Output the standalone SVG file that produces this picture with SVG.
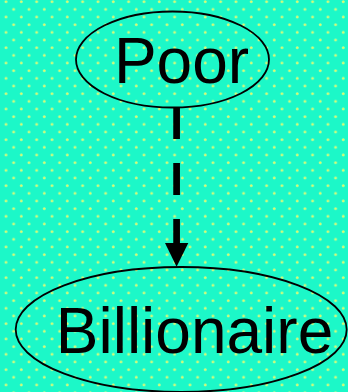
<svg xmlns="http://www.w3.org/2000/svg" width="348" height="392" viewBox="0 0 348 392">
<defs>
<pattern id="dots" x="0" y="0" width="15.33" height="15.33" patternUnits="userSpaceOnUse">
<rect width="15.33" height="15.33" fill="#1cf8c8"/>
<circle cx="6" cy="1.7" r="1.5" fill="#b8fb9c"/>
<circle cx="6" cy="1.7" r="0.7" fill="#f6ff40"/>
<circle cx="13.67" cy="9.35" r="1.5" fill="#b8fb9c"/>
<circle cx="13.67" cy="9.35" r="0.7" fill="#f6ff40"/>
</pattern>
<style>
.node ellipse { fill: none; stroke: #000; stroke-width: 1.8; }
.node text { font-family: "Liberation Sans", Arial, sans-serif; fill: #000; text-anchor: middle; font-size: 64px; }
.edge { fill: none; stroke: #000; stroke-width: 6.7; stroke-dasharray: 32 24; }
.head { fill: #000; }
</style>
</defs>
<rect width="348" height="392" fill="url(#dots)"/>
<g id="edges">
<path class="edge" d="M176.6,107 V243"/>
<path class="head" d="M165,243 L176.6,266.7 L188.3,243 Z"/>
</g>
<g id="node-poor" class="node">
<ellipse cx="172.5" cy="59.5" rx="96.5" ry="48"/>
<text x="181.5" y="83">Poor</text>
</g>
<g id="node-billionaire" class="node">
<ellipse cx="181.2" cy="329.5" rx="165.5" ry="62.5"/>
<text x="194.5" y="353">Billionaire</text>
</g>
</svg>
